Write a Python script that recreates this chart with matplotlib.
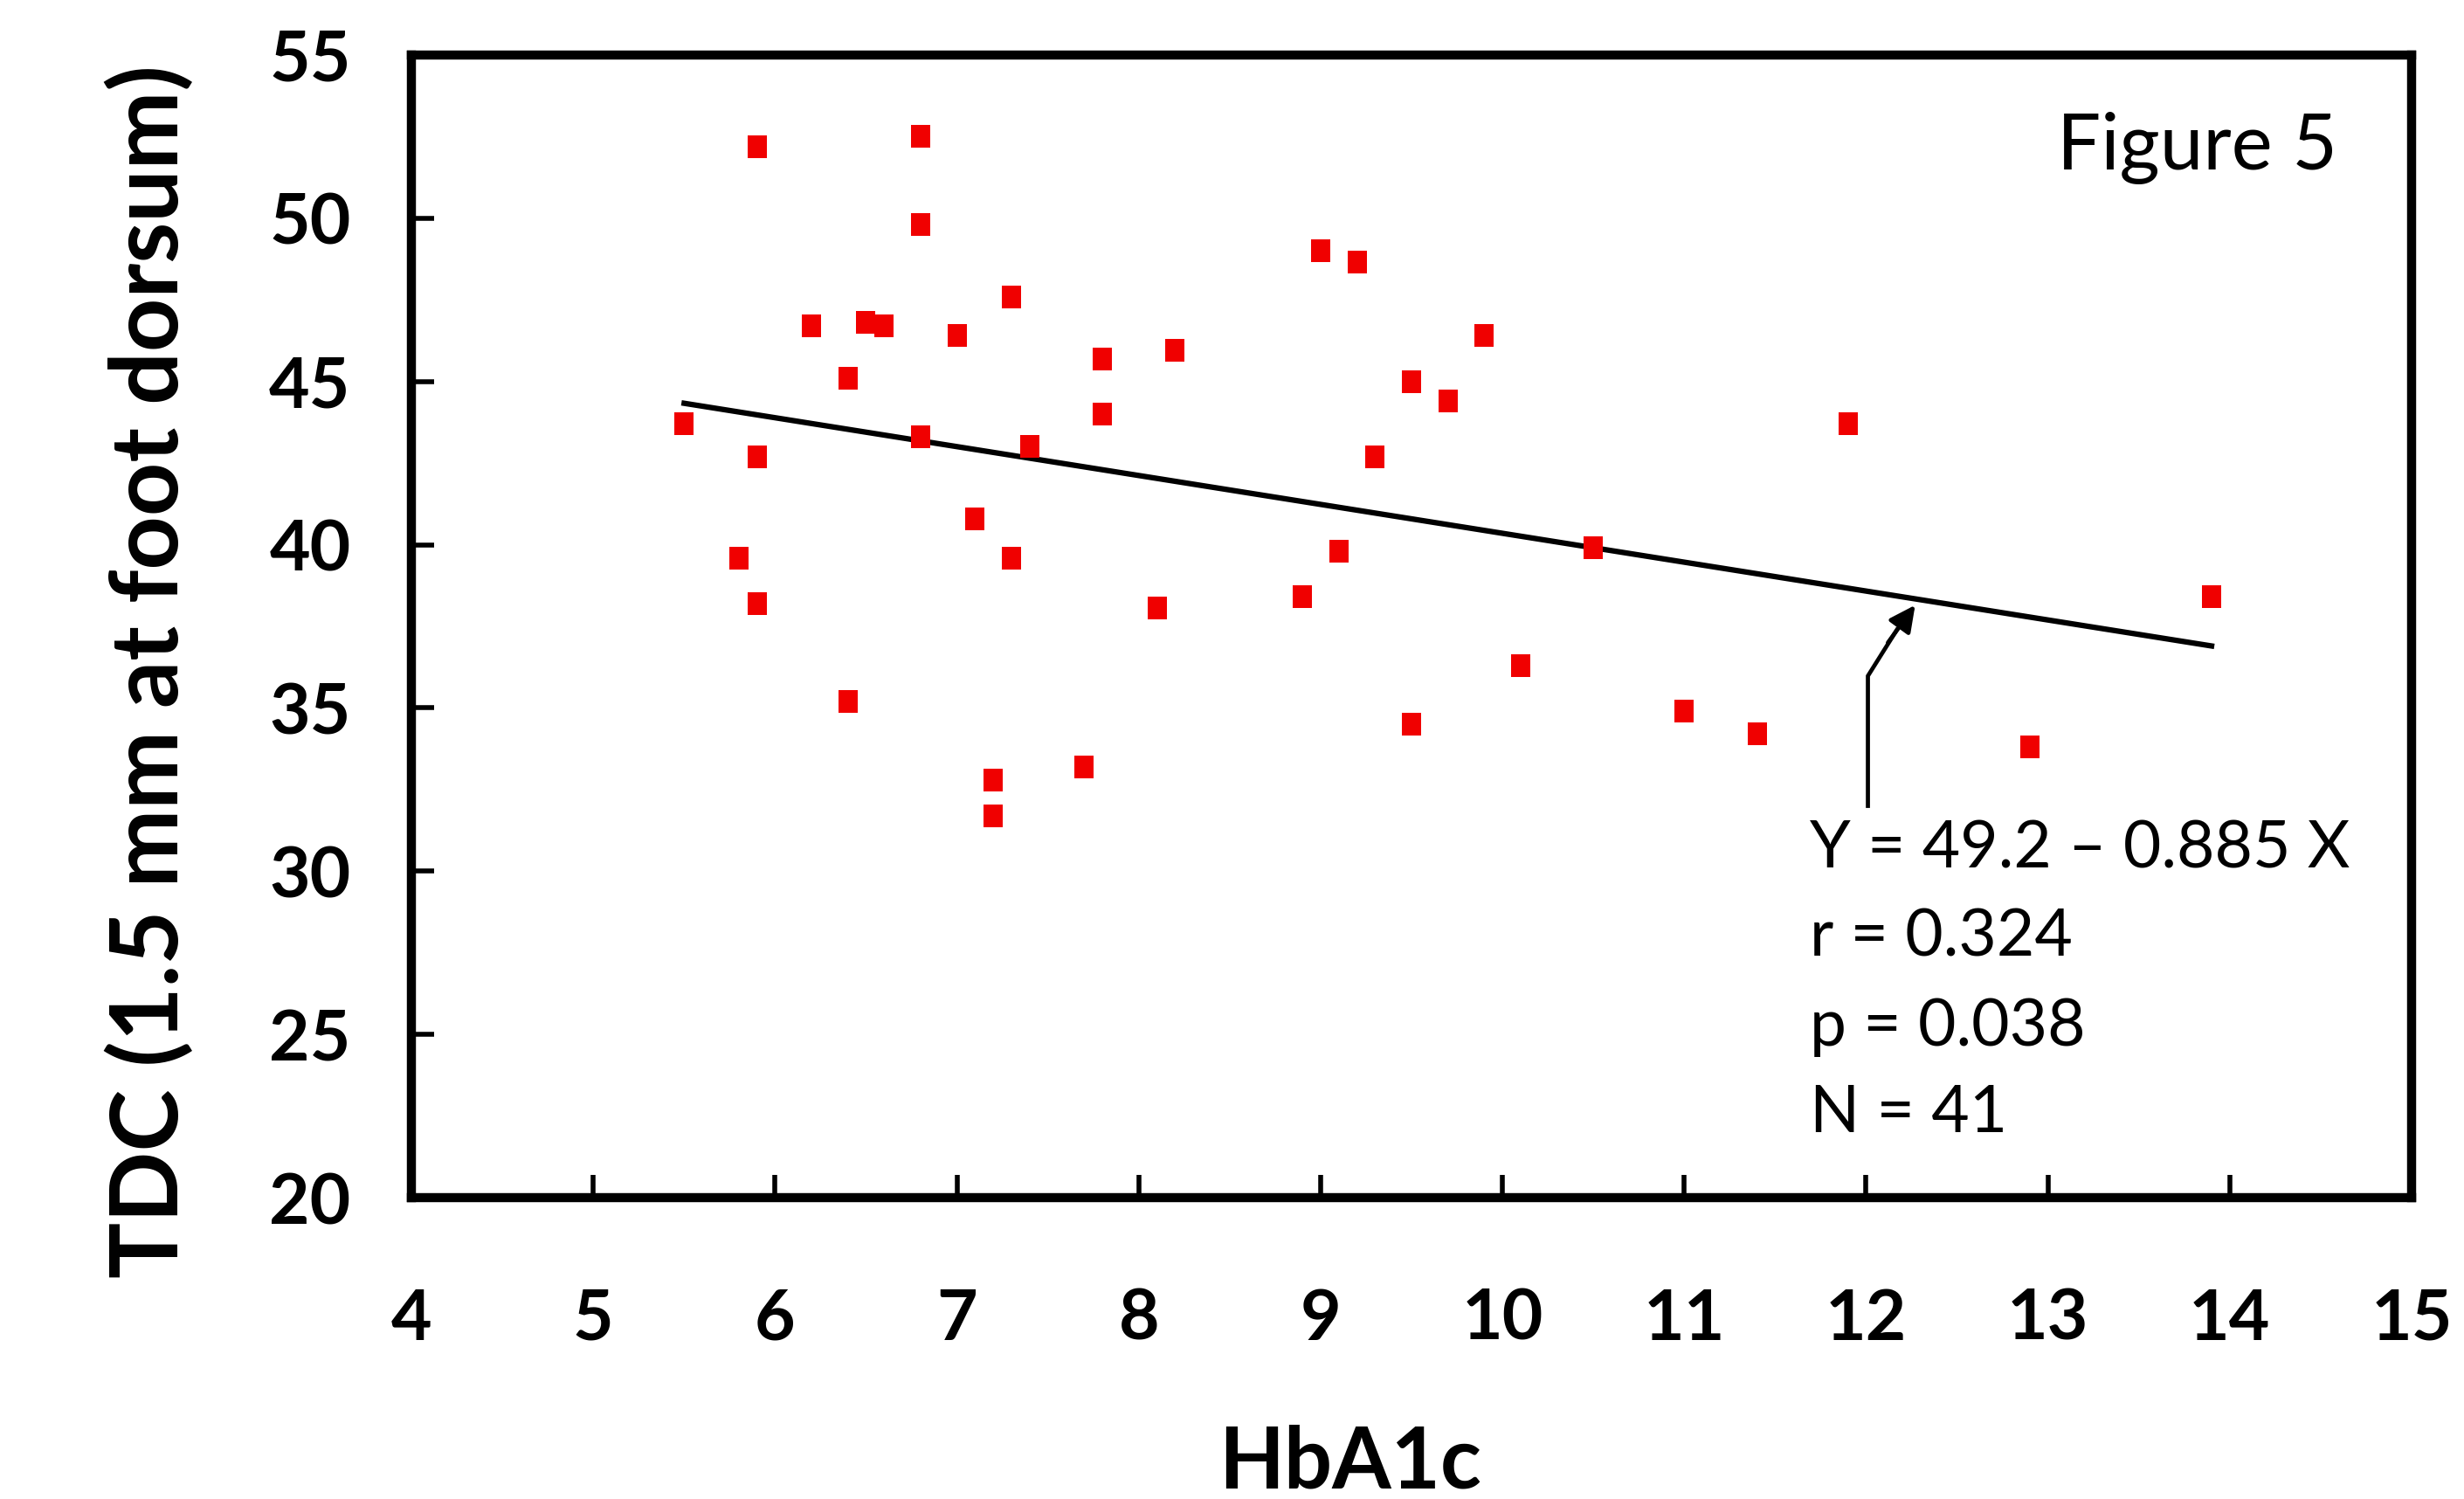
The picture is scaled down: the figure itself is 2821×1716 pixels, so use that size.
import matplotlib
matplotlib.use("Agg")
import matplotlib.pyplot as plt
from matplotlib.path import Path

plt.rcParams["font.family"] = ["Lato", "DejaVu Sans"]

# HbA1c vs TDC values (41 subjects)
hba1c = [5.5, 5.9, 5.9, 5.8, 5.9, 6.2, 6.4, 6.4, 6.5, 6.6,
         6.8, 6.8, 6.8, 7.0, 7.1, 7.2, 7.2, 7.3, 7.3, 7.4,
         7.7, 7.8, 7.8, 8.1, 8.2, 8.9, 9.0, 9.1, 9.2, 9.3,
         9.5, 9.5, 9.7, 9.9, 10.1, 10.5, 11.0, 11.4, 11.9, 12.9,
         13.9]
tdc = [43.7, 52.2, 42.7, 39.6, 38.2, 46.7, 45.1, 35.2, 46.8, 46.7,
       52.5, 49.8, 43.3, 46.4, 40.8, 32.8, 31.7, 47.6, 39.6, 43.0,
       33.2, 45.7, 44.0, 38.05, 45.95, 38.4, 49.0, 39.8, 48.65, 42.7,
       45.0, 34.5, 44.4, 46.4, 36.3, 39.9, 34.9, 34.2, 43.7, 33.8,
       38.4]

# regression reported on the figure
intercept = 49.2
slope = -0.885
fit_x = [5.5, 13.9]
fit_y = [intercept + slope * v for v in fit_x]

stats_lines = ["Y = 49.2 \u2013 0.885 X", "r = 0.324", "p = 0.038", "N = 41"]

x_ticks = list(range(4, 16))
y_ticks = list(range(20, 56, 5))

W, H = 2821, 1716
fig = plt.figure(figsize=(W / 100, H / 100), dpi=100)
ax = fig.add_axes([471 / W, 1 - 1371 / H, 2290 / W, 1308 / H])

# slightly tall square markers like the original
rect = Path([(-0.82, -1), (0.82, -1), (0.82, 1), (-0.82, 1), (-0.82, -1)],
            [Path.MOVETO, Path.LINETO, Path.LINETO, Path.LINETO, Path.CLOSEPOLY])
ax.plot(hba1c, tdc, linestyle="none", marker=rect, markersize=19,
        color="#F00000", markeredgewidth=0, zorder=3)
ax.plot(fit_x, fit_y, color="black", linewidth=4.5, zorder=2)

ax.set_xlim(4, 15)
ax.set_ylim(20, 55)
ax.set_xticks(x_ticks)
ax.set_yticks(y_ticks)
ax.tick_params(direction="in", length=19, width=4, color="black")
ax.tick_params(axis="x", pad=74)
ax.tick_params(axis="y", pad=50)
for lab in ax.get_xticklabels() + ax.get_yticklabels():
    lab.set_fontsize(58)
    lab.set_fontweight("bold")
for sp in ax.spines.values():
    sp.set_linewidth(7.5)
    sp.set_color("black")

# arrow pointing from the stats block to the fit line
ax.plot([12.01, 12.01, 12.17], [32.0, 35.98, 37.4], color="black",
        linewidth=3.4, solid_joinstyle="miter")
ax.annotate("", xy=(12.27, 38.15), xytext=(12.12, 37.0),
            arrowprops=dict(arrowstyle="-|>", color="black", lw=3.4,
                            mutation_scale=45, shrinkA=0, shrinkB=0))

base_y = [30.1, 27.4, 24.65, 22.0]
for txt, yy in zip(stats_lines, base_y):
    ax.text(11.69, yy, txt, fontsize=54, ha="left", va="baseline")

ax.text(13.05, 51.5, "Figure 5", fontsize=64, ha="left", va="baseline")

fig.text(171 / W, 1 - 769 / H, "TDC (1.5 mm at foot dorsum)", rotation=90,
         fontsize=77, fontweight="bold", ha="center", va="center")
fig.text(1546 / W, 1 - 1704 / H, "HbA1c", fontsize=70, fontweight="bold",
         ha="center", va="baseline")

fig.savefig("out.png", dpi=100, facecolor="white")
